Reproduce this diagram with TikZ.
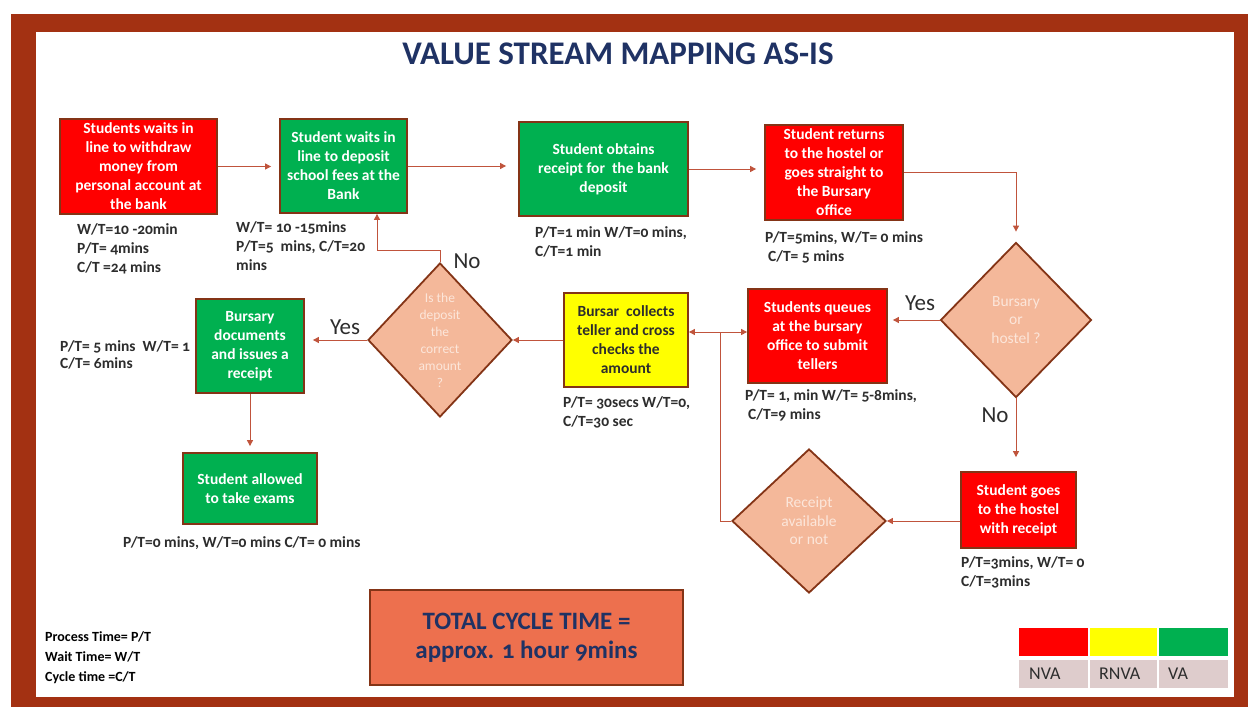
\documentclass[tikz,border=0pt]{standalone}
\usepackage{fontspec}
\setmainfont{Carlito}[Numbers=OldStyle]
\usetikzlibrary{arrows.meta,shapes.geometric,calc}
\definecolor{framec}{RGB}{163,49,18}
\definecolor{nvared}{RGB}{255,0,0}
\definecolor{vagreen}{RGB}{0,176,80}
\definecolor{rnvayel}{RGB}{255,255,0}
\definecolor{edgec}{RGB}{132,52,22}
\definecolor{linec}{RGB}{192,84,60}
\definecolor{diafill}{RGB}{244,184,154}
\definecolor{diatxt}{RGB}{252,230,218}
\definecolor{navy}{RGB}{31,50,100}
\definecolor{anntxt}{RGB}{45,45,45}
\definecolor{coral}{RGB}{237,112,78}
\definecolor{legcell}{RGB}{222,204,204}
\tikzset{
  vbox/.style={draw=edgec, line width=1.8pt, inner sep=2pt, align=center, text=white,
    font=\fontsize{15.5}{19}\selectfont\bfseries},
  dia/.style={shape=diamond, draw=edgec, line width=1.8pt, fill=diafill, inner sep=0pt},
  diatext/.style={align=center, text=diatxt, inner sep=0pt},
  ann/.style={align=left, text=anntxt, inner sep=0pt, anchor=north west,
    font=\fontsize{15.5}{19}\selectfont\bfseries},
  yn/.style={text=anntxt, inner sep=0pt, font=\fontsize{23}{26}\selectfont},
  conn/.style={draw=linec, line width=1pt},
  arr/.style={conn, -{Triangle[length=6pt,width=6pt]}},
  legtxt/.style={text=anntxt, inner sep=0pt, anchor=west, font=\fontsize{18}{20}\selectfont}
}
\begin{document}
\begin{tikzpicture}[x=1pt,y=-1pt]
\useasboundingbox (0,0) rectangle (1248,707);
\fill[white] (0,0) rectangle (1248,707);
\fill[framec] (11,14) rectangle (1248,707);
\fill[white] (36,32) rectangle (1234,697);

% title
\node[text=navy, font=\fontsize{33}{36}\selectfont\bfseries] (title) at (618,54) {VALUE STREAM MAPPING AS-IS};

% process boxes
\node[vbox, fill=nvared, minimum width=157, minimum height=95] (A) at (138.5,166.5)
  {Students waits in\\line to withdraw\\money from\\personal account at\\the bank};
\node[vbox, fill=vagreen, minimum width=127, minimum height=94] (B) at (343.5,166)
  {Student waits in\\line to deposit\\school fees at the\\Bank};
\node[vbox, fill=vagreen, minimum width=169, minimum height=94] (C) at (603.5,169)
  {Student obtains\\receipt for\ \ the bank\\deposit};
\node[vbox, fill=nvared, minimum width=138, minimum height=95] (D) at (834,172.5)
  {Student returns\\to the hostel or\\goes straight to\\the Bursary\\office};
\node[vbox, fill=nvared, minimum width=139, minimum height=94] (F) at (817.5,336)
  {Students queues\\at the bursary\\office to submit\\tellers};
\node[vbox, fill=rnvayel, text=anntxt, minimum width=124, minimum height=94] (I) at (626,340)
  {Bursar\ \ collects\\teller and cross\\checks the\\amount};
\node[vbox, fill=vagreen, minimum width=108, minimum height=94] (K) at (250,346)
  {Bursary\\documents\\and issues a\\receipt};
\node[vbox, fill=vagreen, minimum width=134, minimum height=71] (L) at (250,488.5)
  {Student allowed\\to take exams};
\node[vbox, fill=nvared, minimum width=115, minimum height=76] (H) at (1018.5,510)
  {Student goes\\to the hostel\\with receipt};

% decisions
\node[dia, minimum width=151, minimum height=155] (E) at (1016,320) {};
\node[diatext, font=\fontsize{15.5}{18.5}\selectfont] (Et) at (E) {Bursary\\or\\hostel ?};
\node[dia, minimum width=144, minimum height=154] (J) at (440,340) {};
\node[diatext, font=\fontsize{13.5}{17}\selectfont] (Jt) at (J) {Is the\\deposit\\the\\correct\\amount\\?};
\node[dia, minimum width=154, minimum height=144] (G) at (809,521) {};
\node[diatext, font=\fontsize{15.5}{18.5}\selectfont] (Gt) at (G) {Receipt\\available\\or not};

% connectors
\draw[arr, shorten >=8pt] (A.east) -- (A.east -| B.west);
\draw[arr, shorten >=12pt] (B.east) -- (B.east -| C.west);
\draw[arr, shorten >=8pt] (C.east) -- (C.east -| D.west);
\draw[arr, shorten >=10pt] (D.east) -| (E.north);
\draw[arr, shorten >=5pt] (E.west) -- (E.west -| F.east);
\draw[arr, shorten >=14pt] (E.south) -- (E.south |- H.north);
\draw[arr] (G.east -| H.west) -- (G.east);
\coordinate (jn) at (720,332);
\draw[conn] (G.west) -| (jn);
\draw[arr] (jn) -- (jn -| I.east);
\draw[arr] (jn) -- (jn -| F.west);
\draw[arr] (J.east -| I.west) -- (J.east);
\coordinate (nb) at (377,250);
\draw[arr] (J.north) |- (nb) -- (nb |- B.south);
\draw[arr, shorten >=8pt] (J.west) -- (J.west -| K.east);
\draw[arr, shorten >=6pt] (K.south) -- (L.north);

% yes / no labels
\node[yn] (yesE) at (920,303) {Yes};
\node[yn] (noE) at (995,415) {No};
\node[yn] (noJ) at (467,261) {No};
\node[yn] (yesJ) at (345,327) {Yes};

% annotations
\node[ann] (aA) at (77,223) {W/T=10 -20min\\P/T= 4mins\\C/T =24 mins};
\node[ann] (aB) at (236,221) {W/T= 10 -15mins\\P/T=5\ \ mins, C/T=20\\mins};
\node[ann] (aC) at (535,226) {P/T=1 min W/T=0 mins,\\C/T=1 min};
\node[ann] (aD) at (765,231) {P/T=5mins, W/T= 0 mins\\\hspace{3pt}C/T= 5 mins};
\node[ann] (aF) at (745,389) {P/T= 1, min W/T= 5-8mins,\\\hspace{3pt}C/T=9 mins};
\node[ann] (aI) at (563,396) {P/T= 30secs W/T=0,\\C/T=30 sec};
\node[ann, font=\fontsize{15.5}{17}\selectfont\bfseries] (aK) at (60,340) {P/T= 5 mins\ \ W/T= 1\\C/T= 6mins};
\node[ann] (aL) at (123,536) {P/T=0 mins, W/T=0 mins C/T= 0 mins};
\node[ann] (aH) at (961,556) {P/T=3mins, W/T= 0\\C/T=3mins};

% key
\node[ann, text=black, font=\fontsize{14}{20}\selectfont\bfseries] (key) at (45,631)
  {Process Time= P/T\\Wait Time= W/T\\Cycle time =C/T};

% total cycle time
\node[draw=edgec, line width=1.5pt, fill=coral, minimum width=313, minimum height=95,
  align=center, text=navy, font=\fontsize{25}{29}\selectfont\bfseries] (tot) at (526.5,637.5)
  {TOTAL CYCLE TIME =\\approx. 1 hour 9mins};

% legend table
\fill[nvared] (1019,628) rectangle (1088,656);
\fill[rnvayel] (1090,628) rectangle (1157,656);
\fill[vagreen] (1159,628) rectangle (1228,656);
\fill[legcell] (1019,660) rectangle (1088,688);
\fill[legcell] (1090,660) rectangle (1157,688);
\fill[legcell] (1159,660) rectangle (1228,688);
\node[legtxt] (lnva) at (1029,674) {NVA};
\node[legtxt] (lrnva) at (1099,674) {RNVA};
\node[legtxt] (lva) at (1168,674) {VA};
\end{tikzpicture}
\end{document}
